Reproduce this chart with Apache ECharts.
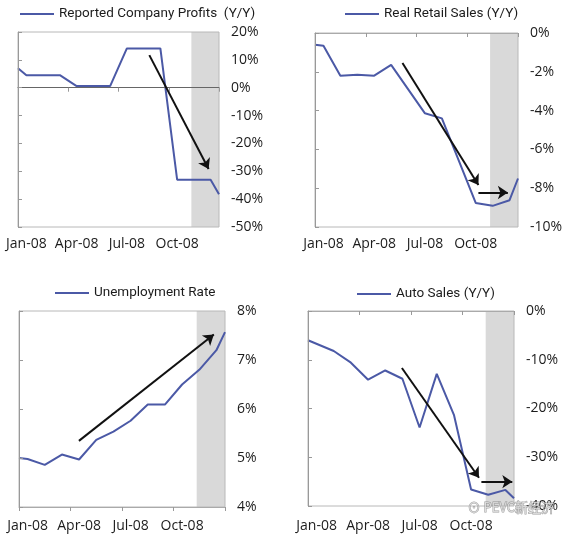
<!DOCTYPE html>
<html><head><meta charset="utf-8">
<script src="https://cdn.jsdelivr.net/npm/echarts@6/dist/echarts.min.js"></script>
<style>html,body{margin:0;padding:0;background:#fff}#c{width:570px;height:536px}</style>
</head><body><div id="c"></div>
<script>
// ---- data ----
const months = ['Jan-08','Feb-08','Mar-08','Apr-08','May-08','Jun-08','Jul-08','Aug-08','Sep-08','Oct-08','Nov-08','Dec-08'];
// x positions are in months from the start of Jan-08
const profitsX = [0, 0.5, 2.5, 3.5, 5.5, 6.5, 8.5, 9.5, 11.5, 12];
const profitsY = [7, 4.5, 4.5, 0.6, 0.6, 14.1, 14.1, -33, -33, -38.2];
const retailX = [0, 0.5, 1.5, 2.5, 3.5, 4.5, 6.5, 7.5, 9.5, 10.5, 11.5, 12];
const retailY = [-0.6, -0.66, -2.2, -2.15, -2.2, -1.64, -4.14, -4.4, -8.76, -8.91, -8.62, -7.5];
const unempX = [0, 0.5, 1.5, 2.5, 3.5, 4.5, 5.5, 6.5, 7.5, 8.5, 9.5, 10.5, 11.5, 12];
const unempY = [5.0, 4.98, 4.86, 5.07, 4.97, 5.37, 5.54, 5.76, 6.09, 6.09, 6.5, 6.8, 7.2, 7.57];
const autoX = [0, 1.5, 2.5, 3.5, 4.5, 5.5, 6.5, 7.5, 8.5, 9.5, 10.5, 11.5, 12];
const autoY = [-6.0, -8.2, -10.6, -14.1, -12.2, -13.9, -23.9, -12.9, -21.3, -36.6, -37.7, -36.7, -38.4];
// shaded period (months)
const shadeStart = 10.35, shadeEnd = 12;
// trend arrows: [x1, y1, x2, y2]
const profitsArrows = [[7.84, 11.7, 11.38, -29.2]];
const retailArrows = [[5.17, -1.55, 9.66, -7.84], [9.66, -8.22, 11.4, -8.22]];
const unempArrows = [[3.49, 5.35, 11.35, 7.52]];
const autoArrows = [[5.47, -11.7, 9.96, -34.2], [10.1, -35, 11.9, -35]];
// axis ranges [min, max, interval]
const profitsAxis = [-50, 20, 10];
const retailAxis = [-10, 0, 2];
const unempAxis = [4, 8, 1];
const autoAxis = [-40, 0, 10];

// ---- layout ----
const FONT = '"Open Sans", sans-serif';
const LFONT = 'Roboto, sans-serif';
const TXT = '#1c1c1c';
const panels = [
  {name:'Reported Company Profits  (Y/Y)', xs:profitsX, ys:profitsY, ax:profitsAxis, arrows:profitsArrows,
   grid:{left:18, top:32, width:201, height:195}, legend:{left:20, top:7}, lblMargin:10, zeroColor:'#666'},
  {name:'Real Retail Sales (Y/Y)', xs:retailX, ys:retailY, ax:retailAxis, arrows:retailArrows,
   grid:{left:315, top:33, width:203, height:194}, legend:{left:345, top:7}, lblMargin:10, zeroColor:'#aaa'},
  {name:'Unemployment Rate', xs:unempX, ys:unempY, ax:unempAxis, arrows:unempArrows,
   grid:{left:19, top:311, width:206, height:196}, legend:{left:55, top:286}, lblMargin:12, zeroColor:'#aaa'},
  {name:'Auto Sales (Y/Y)', xs:autoX, ys:autoY, ax:autoAxis, arrows:autoArrows,
   grid:{left:308, top:311, width:206, height:195}, legend:{left:357, top:287}, lblMargin:13, zeroColor:'#aaa'}
];

const option = {animation:false, backgroundColor:'#fff', grid:[], xAxis:[], yAxis:[], series:[], legend:[],
  textStyle:{fontFamily:FONT}};
panels.forEach((p, i) => {
  option.grid.push(Object.assign({show:true, borderColor:'#b8b8b8', borderWidth:1, z:3}, p.grid));
  option.xAxis.push({type:'category', gridIndex:i, data:months, position:'bottom', z:4,
    axisLine:{onZero:true, lineStyle:{color:p.zeroColor, width:1}},
    axisTick:{show:true, interval:2, length:4, lineStyle:{color:'#999'}},
    axisLabel:{show:false}, splitLine:{show:false}});
  option.xAxis.push({type:'category', gridIndex:i, data:months, position:'bottom',
    axisLine:{show:false, onZero:false}, axisTick:{show:false},
    axisLabel:{interval:2, margin:p.lblMargin, color:TXT, fontSize:14, fontFamily:FONT}, splitLine:{show:false}});
  option.xAxis.push({type:'value', gridIndex:i, min:0, max:12, show:false});
  option.yAxis.push({type:'value', gridIndex:i, position:'right', min:p.ax[0], max:p.ax[1], interval:p.ax[2], z:4,
    axisLine:{show:true, lineStyle:{color:'#999'}}, axisTick:{show:true, length:4, lineStyle:{color:'#999'}},
    axisLabel:{formatter:'{value}%', margin:12, color:TXT, fontSize:14, fontFamily:FONT},
    splitLine:{show:false}});
  option.legend.push(Object.assign({data:[p.name], icon:'rect', itemWidth:34, itemHeight:2, itemGap:6, padding:0,
    itemStyle:{color:'#4b59a6'},
    textStyle:{fontSize:13.5, color:TXT, fontFamily:LFONT}}, p.legend));
  option.series.push({name:p.name, type:'line', xAxisIndex:3*i+2, yAxisIndex:i, symbol:'none',
    data:p.xs.map((x, k) => [x, p.ys[k]]),
    lineStyle:{color:'#4b59a6', width:2}, itemStyle:{color:'#4b59a6'},
    markArea:{silent:true, itemStyle:{color:'#d9d9d9'}, data:[[{xAxis:shadeStart}, {xAxis:shadeEnd}]]},
    markLine:{silent:true, symbol:['none','arrow'], symbolSize:10, label:{show:false},
      lineStyle:{color:'#111', width:2, type:'solid'},
      data:p.arrows.map(a => [{coord:[a[0], a[1]]}, {coord:[a[2], a[3]]}])}
  });
});
option.graphic = [{type:'text', left:467, top:500, z:100,
  style:{text:'⊙ PEVC新经济', fontSize:13, fill:'rgba(255,255,255,0.6)', stroke:'rgba(120,120,120,0.7)', lineWidth:1, fontFamily:'"Noto Sans CJK SC", sans-serif'}}];

const chart = echarts.init(document.getElementById('c'), null, {renderer:'canvas'});
chart.setOption(option);
</script></body></html>
